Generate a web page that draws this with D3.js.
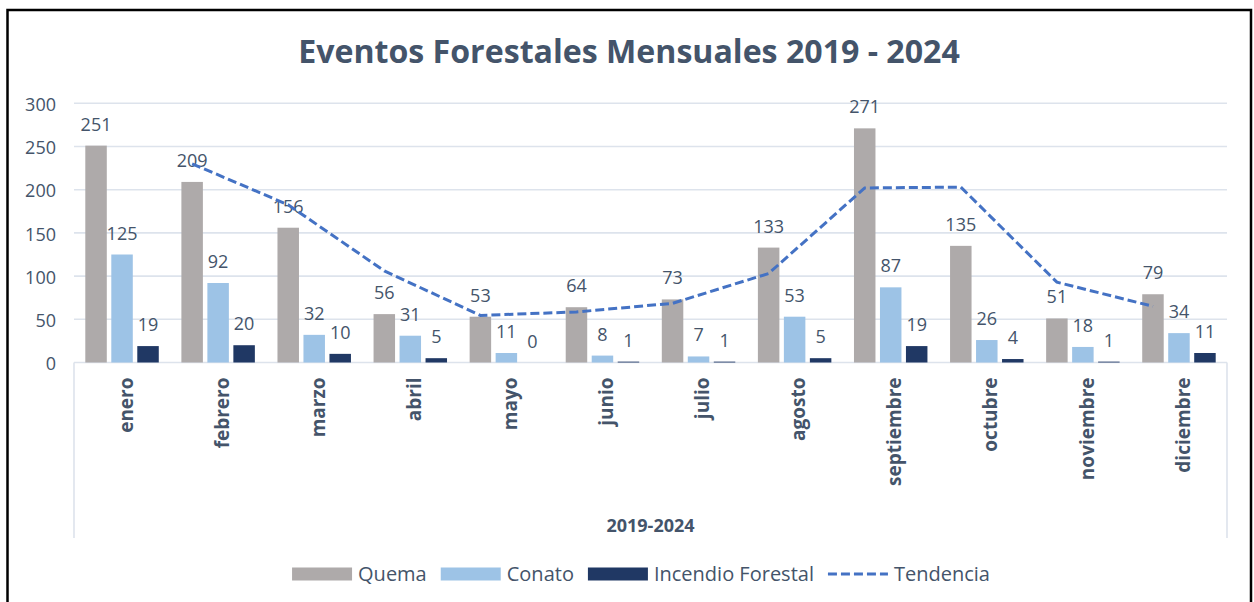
<!DOCTYPE html>
<html>
<head>
<meta charset="utf-8">
<script src="https://cdn.jsdelivr.net/npm/d3@7"></script>
<style>
  html, body { margin: 0; padding: 0; background: #ffffff; }
  svg { display: block; }
</style>
</head>
<body>
<svg id="chart" width="1254" height="602"></svg>
<script>
// Monthly forest events, 2019-2024
const months = ["enero", "febrero", "marzo", "abril", "mayo", "junio", "julio",
                "agosto", "septiembre", "octubre", "noviembre", "diciembre"];
const seriesNames = ["Quema", "Conato", "Incendio Forestal"];
const quema    = [251, 209, 156, 56, 53, 64, 73, 133, 271, 135, 51, 79];
const conato   = [125, 92, 32, 31, 11, 8, 7, 53, 87, 26, 18, 34];
const incendio = [19, 20, 10, 5, 0, 1, 1, 5, 19, 4, 1, 11];
// two-period moving average of Quema (first month has no value)
const tendencia = [null, 230, 182.5, 106, 54.5, 58.5, 68.5, 103, 202, 203, 93, 65];
const yTicks = [0, 50, 100, 150, 200, 250, 300];

const colors = { "Quema": "#aeaaaa", "Conato": "#9dc3e6", "Incendio Forestal": "#203864" };
const trendColor = "#4472c4";
const textColor = "#44546a";
const gridColor = "#dde3ec";
const font = "'Open Sans', 'Liberation Sans', sans-serif";

const svg = d3.select("#chart");

// outer frame
svg.append("rect")
  .attr("x", 7.5).attr("y", 10).attr("width", 1243.5).attr("height", 600)
  .attr("fill", "#ffffff").attr("stroke", "#000000").attr("stroke-width", 2.5);

const plot = { left: 74, right: 1227, top: 103.3, bottom: 362.5 };

const y = d3.scaleLinear().domain([0, 300]).range([plot.bottom, plot.top]);
const x0 = d3.scaleBand().domain(months).range([plot.left, plot.right]).padding(0);
const x1 = d3.scaleBand().domain(seriesNames).range([0, x0.bandwidth()])
  .paddingInner(0.173).paddingOuter(0.435);

// title
const title = svg.append("text")
  .attr("x", 629).attr("y", 63)
  .attr("text-anchor", "middle")
  .attr("font-family", font).attr("font-weight", 700)
  .attr("font-size", 32).attr("fill", textColor)
  .text("Eventos Forestales Mensuales 2019 - 2024");
{
  const w = title.node().getComputedTextLength();
  title.attr("font-size", 32 * 662 / w);
}

// horizontal gridlines
svg.append("g")
  .selectAll("line")
  .data(yTicks.filter(d => d > 0))
  .join("line")
  .attr("x1", plot.left).attr("x2", plot.right)
  .attr("y1", d => y(d)).attr("y2", d => y(d))
  .attr("stroke", gridColor).attr("stroke-width", 1.6);

// y axis labels
const yAxis = svg.append("g")
  .attr("transform", `translate(${plot.left},0)`)
  .call(d3.axisLeft(y).tickValues(yTicks).tickSize(0).tickPadding(18));
yAxis.select(".domain").remove();
yAxis.selectAll("text")
  .attr("font-family", font).attr("font-size", 18)
  .attr("fill", textColor).attr("dy", "0.4em");

// category axis frame
svg.append("line")
  .attr("x1", plot.left).attr("x2", plot.right)
  .attr("y1", plot.bottom).attr("y2", plot.bottom)
  .attr("stroke", gridColor).attr("stroke-width", 1.6);
[plot.left, plot.right].forEach(xx => {
  svg.append("line")
    .attr("x1", xx).attr("x2", xx)
    .attr("y1", plot.bottom).attr("y2", 538)
    .attr("stroke", gridColor).attr("stroke-width", 1.6);
});

// month labels
const xAxis = svg.append("g")
  .attr("transform", `translate(0,${plot.bottom})`)
  .call(d3.axisBottom(x0).tickSize(0).tickPadding(0));
xAxis.select(".domain").remove();
xAxis.selectAll("text")
  .attr("font-family", font).attr("font-weight", 700).attr("font-size", 19)
  .attr("fill", textColor)
  .attr("text-anchor", "end")
  .attr("transform", "translate(4,15) rotate(-90)")
  .attr("x", 0).attr("y", 0).attr("dy", "0.35em");

// category axis title
svg.append("text")
  .attr("x", (plot.left + plot.right) / 2).attr("y", 532)
  .attr("text-anchor", "middle")
  .attr("font-family", font).attr("font-weight", 700).attr("font-size", 18)
  .attr("fill", textColor)
  .text("2019-2024");

// bars
const rows = months.map((m, i) => ({
  month: m,
  values: [
    { key: "Quema", value: quema[i] },
    { key: "Conato", value: conato[i] },
    { key: "Incendio Forestal", value: incendio[i] }
  ]
}));

const groups = svg.append("g").selectAll("g")
  .data(rows)
  .join("g")
  .attr("transform", d => `translate(${x0(d.month)},0)`);

groups.selectAll("rect")
  .data(d => d.values)
  .join("rect")
  .attr("x", d => x1(d.key))
  .attr("y", d => y(d.value))
  .attr("width", x1.bandwidth())
  .attr("height", d => y(0) - y(d.value))
  .attr("fill", d => colors[d.key]);

groups.selectAll("text")
  .data(d => d.values)
  .join("text")
  .attr("x", d => x1(d.key) + x1.bandwidth() / 2)
  .attr("y", d => y(d.value) - 15)
  .attr("text-anchor", "middle")
  .attr("font-family", font).attr("font-size", 18)
  .attr("fill", textColor)
  .text(d => d.value);

// trend line, drawn over the Quema bars
const trendPts = months.map((m, i) => ({ m, v: tendencia[i] })).filter(d => d.v !== null);
const line = d3.line()
  .x(d => x0(d.m) + x1("Quema") + x1.bandwidth() / 2)
  .y(d => y(d.v));
svg.append("path")
  .datum(trendPts)
  .attr("d", line)
  .attr("fill", "none")
  .attr("stroke", trendColor).attr("stroke-width", 3)
  .attr("stroke-dasharray", "9,4");

// legend
const legendItems = [
  { name: "Quema", type: "rect", color: colors["Quema"] },
  { name: "Conato", type: "rect", color: colors["Conato"] },
  { name: "Incendio Forestal", type: "rect", color: colors["Incendio Forestal"] },
  { name: "Tendencia", type: "line", color: trendColor }
];
const legend = svg.append("g");
const swW = 60, swGap = 6, itemGap = 14, legendY = 574;
let cx = 0;
legendItems.forEach(item => {
  const g = legend.append("g").attr("transform", `translate(${cx},0)`);
  if (item.type === "rect") {
    g.append("rect").attr("x", 0).attr("y", legendY - 6.5)
      .attr("width", swW).attr("height", 13).attr("fill", item.color);
  } else {
    g.append("line").attr("x1", 0).attr("x2", swW)
      .attr("y1", legendY).attr("y2", legendY)
      .attr("stroke", item.color).attr("stroke-width", 3)
      .attr("stroke-dasharray", "9,4");
  }
  const t = g.append("text")
    .attr("x", swW + swGap).attr("y", legendY).attr("dy", "0.36em")
    .attr("font-family", font).attr("font-size", 20)
    .attr("fill", textColor)
    .text(item.name);
  cx += swW + swGap + t.node().getComputedTextLength() + itemGap;
});
const legendW = cx - itemGap;
legend.attr("transform", `translate(${641 - legendW / 2},0)`);
</script>
</body>
</html>
